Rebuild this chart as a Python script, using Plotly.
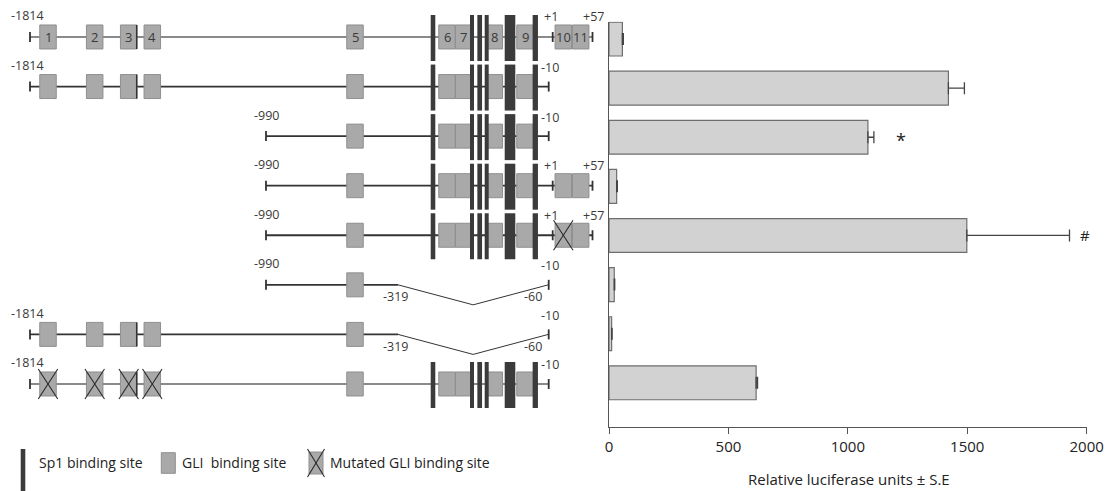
import plotly.graph_objects as go

# ---------------- luciferase activity ----------------
luc_mean = [56, 1421, 1084, 32, 1498, 22, 11, 616]
luc_se = [4, 67, 25, 3, 430, 2, 2, 6]
rows = list(range(8))
x_ticks = [0, 500, 1000, 1500, 2000]
marks = {2: "*", 4: "#"}
mark_x = {2: 1223, 4: 1994}

# ---------------- promoter map (schematic units along the drawing) ----------------
gli_pos = [48, 94.7, 128.7, 152.3, 355, 447, 463.7, 494.3, 525, 563.3, 580.7]
gli_names = ["1", "2", "3", "4", "5", "6", "7", "8", "9", "10", "11"]
sp1_pos = [433, 472, 479.7, 486.7, 510, 535.3]
sp1_width = [4.6, 4.0, 4.7, 4.0, 10.6, 5.3]
minor_sp1_pos = [136.7]
map_pos = {"-1814": 30, "-990": 266, "-319": 398, "-60": 548.3,
           "-10": 548.7, "+1": 552.7, "+57": 592.5}

construct_start = ["-1814", "-1814", "-990", "-990", "-990", "-990", "-1814", "-1814"]
construct_end = ["+57", "-10", "-10", "+57", "+57", "-10", "-10", "-10"]
construct_deletion = [None, None, None, None, None, ("-319", "-60"), ("-319", "-60"), None]
construct_mutated = [[], [], [], [], ["10"], [], [], ["1", "2", "3", "4"]]
numbered_rows = [0]

# ---------------- styles ----------------
FONT = "Open Sans"
TXT = "#3a3a3a"
GLI_FILL = "#a9a9a9"
GLI_LINE = "#8f8f8f"
SP1 = "#3b3b3b"
backbone_colors = ["#8a8a8a", "#333333", "#333333", "#333333", "#333333", "#333333", "#333333", "#8a8a8a"]

U = 1 / 49.57          # one pixel in row units of the map axis
GLI_W, GLI_H = 16.5, 12 * U
SP1_TOP, SP1_BOT = 22 * U, 24 * U
TICK_H = 5 * U
V_DEPTH = 20 * U

fig = go.Figure()

# ---- bar chart ----
fig.add_trace(go.Bar(
    x=luc_mean, y=rows, orientation="h", width=0.69,
    marker=dict(color="#d2d2d2", line=dict(color="#6e6e6e", width=1.2)),
    error_x=dict(type="data", array=luc_se, arrayminus=[0] * len(luc_se),
                 symmetric=False, color="#444444", thickness=1.3, width=6),
    xaxis="x", yaxis="y", showlegend=False, hoverinfo="x",
))

shapes = []
annotations = []

for i, m in marks.items():
    annotations.append(dict(x=mark_x[i], y=rows[i], xref="x", yref="y", text=m,
                            showarrow=False, font=dict(family=FONT, size=18 if m == "*" else 15,
                                                       color="#222"),
                            yshift=-3 if m == "*" else 0))

# ---- promoter constructs ----
for r in rows:
    s = map_pos[construct_start[r]]
    e = map_pos[construct_end[r]]
    col = backbone_colors[r]
    dele = construct_deletion[r]
    lo, hi = (map_pos[dele[0]], map_pos[dele[1]]) if dele else (None, None)

    # backbone
    if dele:
        fig.add_trace(go.Scatter(x=[s, lo], y=[r, r], mode="lines",
                                 line=dict(color=col, width=1.8), xaxis="x2", yaxis="y2",
                                 showlegend=False, hoverinfo="skip"))
        fig.add_trace(go.Scatter(x=[lo, (lo + hi) / 2, hi], y=[r, r + V_DEPTH, r], mode="lines",
                                 line=dict(color="#333", width=1), xaxis="x2", yaxis="y2",
                                 showlegend=False, hoverinfo="skip"))
    else:
        fig.add_trace(go.Scatter(x=[s, e], y=[r, r], mode="lines",
                                 line=dict(color=col, width=1.8), xaxis="x2", yaxis="y2",
                                 showlegend=False, hoverinfo="skip"))

    # end ticks
    tick_x = [s, e]
    if construct_end[r] == "+57":
        tick_x.append(map_pos["+1"])
    for tx in tick_x:
        shapes.append(dict(type="line", xref="x2", yref="y2", x0=tx, x1=tx,
                           y0=r - TICK_H, y1=r + TICK_H, line=dict(color="#333", width=1.8)))

    def present(p):
        if p < s - 5 or p > e:
            return False
        if dele and lo < p < hi:
            return False
        return True

    # GLI sites
    for name, p in zip(gli_names, gli_pos):
        if not present(p):
            continue
        shapes.append(dict(type="rect", xref="x2", yref="y2", layer="above",
                           x0=p - GLI_W / 2, x1=p + GLI_W / 2, y0=r - GLI_H, y1=r + GLI_H,
                           fillcolor=GLI_FILL, line=dict(color=GLI_LINE, width=1)))
        if r in numbered_rows:
            annotations.append(dict(x=p, y=r, xref="x2", yref="y2", text=name, showarrow=False,
                                    font=dict(family=FONT, size=13, color=TXT)))
        if name in construct_mutated[r]:
            for ya, yb in ((r - GLI_H - 3 * U, r + GLI_H + 3 * U), (r + GLI_H + 3 * U, r - GLI_H - 3 * U)):
                shapes.append(dict(type="line", xref="x2", yref="y2", layer="above",
                                   x0=p - GLI_W / 2 - 1.5, x1=p + GLI_W / 2 + 1.5, y0=ya, y1=yb,
                                   line=dict(color="#2a2a2a", width=1.1)))

    for p in minor_sp1_pos:
        if present(p):
            shapes.append(dict(type="line", xref="x2", yref="y2", layer="above",
                               x0=p, x1=p, y0=r - GLI_H, y1=r + GLI_H,
                               line=dict(color="#333", width=1.5)))

    # Sp1 sites
    for p, w in zip(sp1_pos, sp1_width):
        if not present(p):
            continue
        shapes.append(dict(type="rect", xref="x2", yref="y2", layer="above",
                           x0=p - w / 2, x1=p + w / 2, y0=r - SP1_TOP, y1=r + SP1_BOT,
                           fillcolor=SP1, line=dict(width=0)))

    # position labels
    lab = dict(xref="x2", yref="y2", showarrow=False, font=dict(family=FONT, size=12.5, color=TXT))
    annotations.append(dict(lab, x=s, y=r - 21 * U, text=construct_start[r], xshift=-3 if s < 100 else 0))
    if construct_end[r] == "+57":
        annotations.append(dict(lab, x=map_pos["+1"], y=r - 20 * U, text="+1", xshift=-2))
        annotations.append(dict(lab, x=e, y=r - 20 * U, text="+57", xshift=1))
    else:
        annotations.append(dict(lab, x=e, y=r - 19 * U, text=construct_end[r], xshift=1))
    if dele:
        annotations.append(dict(lab, x=lo, y=r + 12 * U, text=dele[0], xshift=-3))
        annotations.append(dict(lab, x=hi, y=r + 12 * U, text=dele[1], xshift=-15))

# ---- legend (paper coordinates) ----
W, H = 1112, 491


def px(x):
    return x / W


def py(y):
    return 1 - y / H


shapes += [
    dict(type="rect", xref="paper", yref="paper", x0=px(20.7), x1=px(25.3), y0=py(449), y1=py(491),
         fillcolor=SP1, line=dict(width=0)),
    dict(type="rect", xref="paper", yref="paper", x0=px(161.3), x1=px(175.3), y0=py(452.7), y1=py(473.3),
         fillcolor=GLI_FILL, line=dict(color=GLI_LINE, width=1)),
    dict(type="rect", xref="paper", yref="paper", x0=px(309), x1=px(323), y0=py(452), y1=py(474),
         fillcolor=GLI_FILL, line=dict(color=GLI_LINE, width=1)),
    dict(type="line", xref="paper", yref="paper", x0=px(307.5), x1=px(324.5), y0=py(449), y1=py(477),
         line=dict(color="#2a2a2a", width=1.1)),
    dict(type="line", xref="paper", yref="paper", x0=px(307.5), x1=px(324.5), y0=py(477), y1=py(449),
         line=dict(color="#2a2a2a", width=1.1)),
]
for x0, t in ((37, "Sp1 binding site"), (180, "GLI  binding site"), (328, "Mutated GLI binding site")):
    annotations.append(dict(xref="paper", yref="paper", x=px(x0), y=py(462.7), xanchor="left",
                            yanchor="middle", text=t, showarrow=False,
                            font=dict(family=FONT, size=14, color="#222")))

annotations.append(dict(xref="paper", yref="paper", x=px(849), y=py(478.5), text="Relative luciferase units ± S.E",
                        showarrow=False, xanchor="center", yanchor="middle",
                        font=dict(family=FONT, size=15, color="#222")))

fig.update_layout(
    width=W, height=H,
    margin=dict(l=0, r=0, t=0, b=0),
    paper_bgcolor="white", plot_bgcolor="rgba(0,0,0,0)",
    font=dict(family=FONT, color="#222"),
    xaxis=dict(domain=[609 / W, 1086.7 / W], range=[0, 2000], anchor="y",
               tickvals=x_ticks, ticks="outside", ticklen=6, tickcolor="#555", tickwidth=1.3,
               showline=True, linecolor="#555", linewidth=1.3, showgrid=False, zeroline=False,
               tickfont=dict(family=FONT, size=15, color="#222"), automargin=False),
    yaxis=dict(domain=[1 - 427 / H, 1 - 21.7 / H], range=[7.9, -0.353], anchor="x",
               showticklabels=False, ticks="", showline=True, linecolor="#555", linewidth=1.3,
               showgrid=False, zeroline=False, automargin=False),
    xaxis2=dict(domain=[0, 1], range=[0, W], anchor="y2", visible=False),
    yaxis2=dict(domain=[0, 1], range=[9.159, -0.746], anchor="x2", visible=False),
    shapes=shapes, annotations=annotations,
)

fig.write_html("out.html")
